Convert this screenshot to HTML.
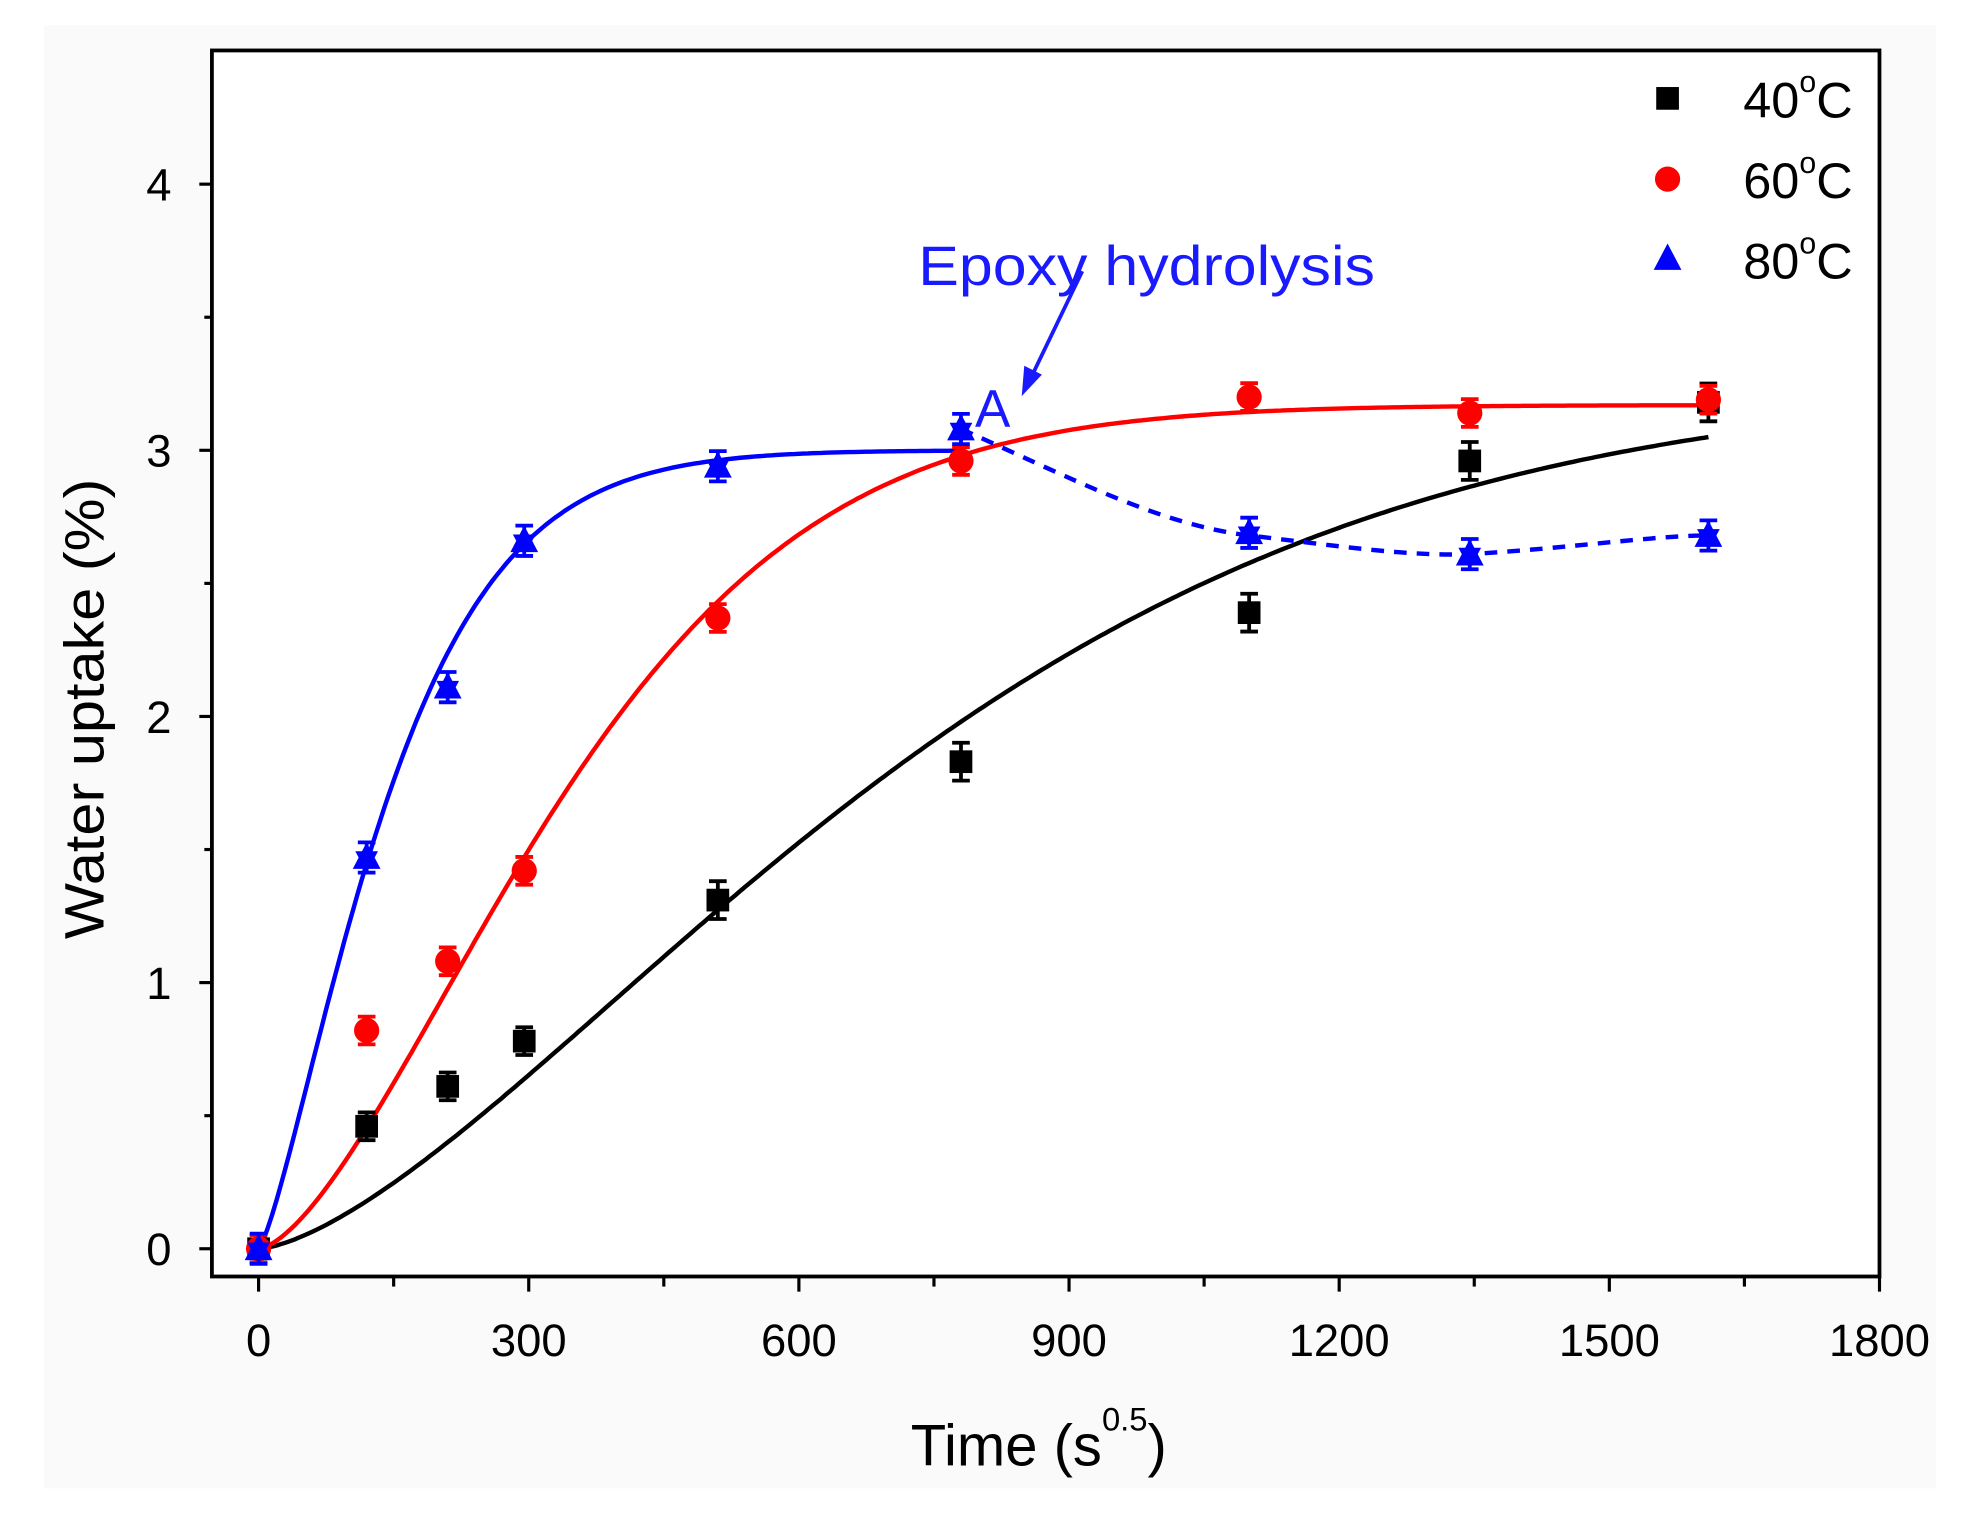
<!DOCTYPE html>
<html><head><meta charset="utf-8"><style>
html,body{margin:0;padding:0;background:#fff;}
svg{display:block;}
text{font-family:"Liberation Sans",Arial,sans-serif;}
</style></head><body>
<svg id="s" width="1964" height="1513" viewBox="0 0 1557 1199.5" preserveAspectRatio="none" xmlns="http://www.w3.org/2000/svg">
<rect x="0" y="0" width="1557" height="1200" fill="#fff"/>
<rect x="35" y="20" width="1500" height="1160" fill="#fafafa"/>
<rect x="168" y="40" width="1322" height="972" fill="#fff" stroke="#000" stroke-width="3"/>
<g id="g"></g>
<text x="728" y="226" font-size="44" fill="#1a1aff" textLength="362" lengthAdjust="spacingAndGlyphs">Epoxy hydrolysis</text>
<text x="773" y="338" font-size="42" fill="#1a1aff">A</text>
<line x1="858" y1="215" x2="818" y2="298" stroke="#1a1aff" stroke-width="3"/>
<polygon points="810,314 812,290 826,297" fill="#1a1aff"/>
<text transform="translate(82,562) rotate(-90)" text-anchor="middle" font-size="44" textLength="365" lengthAdjust="spacingAndGlyphs">Water uptake (%)</text>
<text x="722" y="1162" font-size="46">Time (s<tspan font-size="26" dy="-28">0.5</tspan><tspan dy="28">)</tspan></text>
<g font-size="40">
<rect x="1313" y="69" width="18" height="18" fill="#000"/>
<text x="1382" y="93">40<tspan font-size="24" dy="-20">o</tspan><tspan dy="20">C</tspan></text>
<circle cx="1322" cy="142" r="10" fill="#f00"/>
<text x="1382" y="157">60<tspan font-size="24" dy="-20">o</tspan><tspan dy="20">C</tspan></text>
<polygon points="1322,193 1333,214 1311,214" fill="#00f"/>
<text x="1382" y="221">80<tspan font-size="24" dy="-20">o</tspan><tspan dy="20">C</tspan></text>
</g>
</svg>
<script>
var X=t=>205+t*0.71389, Y=v=>990-v*211;
var g=document.getElementById('g'),h='';
for(var v=0;v<=4.01;v+=0.5){var y=Y(v),maj=Math.abs(v-Math.round(v))<1e-6;
h+='<line x1="'+(maj?158:162)+'" y1="'+y+'" x2="168" y2="'+y+'" stroke="#000" stroke-width="2.5"/>';
if(maj)h+='<text x="136" y="'+(y+13)+'" font-size="36" text-anchor="end">'+Math.round(v)+'</text>';}
for(var t=0;t<=1800;t+=150){var x=X(t),maj=t%300==0;
h+='<line x1="'+x+'" y1="1012" x2="'+x+'" y2="'+(maj?1024:1020)+'" stroke="#000" stroke-width="2.5"/>';
if(maj)h+='<text x="'+x+'" y="1075" font-size="36" text-anchor="middle">'+t+'</text>';}
function curve(A,tau,n,tmax,col,dash){var p='';for(var t=0;t<=tmax;t+=5){var v=A*(1-Math.exp(-Math.pow(t/tau,n)));p+=(t?'L':'M')+X(t).toFixed(1)+','+Y(v).toFixed(1);}
return '<path d="'+p+'" fill="none" stroke="'+col+'" stroke-width="3.5"/>';}
h+=curve(3.25,813,1.5,1610,'#000');
h+=curve(3.17,400,1.55,1610,'#f00');
h+=curve(3.0,165,1.31,775,'#00f');
h+='<path d="M'+X(780)+','+Y(3.08)+' C'+X(900)+','+Y(2.9)+' '+X(1000)+','+Y(2.72)+' '+X(1100)+','+Y(2.68)+' C'+X(1200)+','+Y(2.64)+' '+X(1280)+','+Y(2.6)+' '+X(1345)+','+Y(2.61)+' C'+X(1450)+','+Y(2.63)+' '+X(1550)+','+Y(2.68)+' '+X(1610)+','+Y(2.68)+'" fill="none" stroke="#00f" stroke-width="3.5" stroke-dasharray="10,8"/>';
var ts=[0,120,210,295,510,780,1100,1345,1610];
var d40=[0,0.46,0.61,0.78,1.31,1.83,2.39,2.96,3.18],d60=[0,0.82,1.08,1.42,2.37,2.96,3.2,3.14,3.19],d80=[0,1.47,2.11,2.66,2.94,3.08,2.69,2.61,2.68];
function eb(x,y,e,c){return '<path d="M'+x+','+(y-e)+'V'+(y+e)+'M'+(x-7)+','+(y-e)+'h14M'+(x-7)+','+(y+e)+'h14" stroke="'+c+'" stroke-width="3" fill="none"/>';}
ts.forEach(function(t,i){var x=X(t);
var y=Y(d40[i]);h+=eb(x,y,i>3?15:11,'#000')+'<rect x="'+(x-9)+'" y="'+(y-9)+'" width="18" height="18" fill="#000"/>';
y=Y(d60[i]);h+=eb(x,y,11,'#f00')+'<circle cx="'+x+'" cy="'+y+'" r="10" fill="#f00"/>';
y=Y(d80[i]);h+=eb(x,y,12,'#00f')+'<polygon points="'+x+','+(y-12)+' '+(x+11)+','+(y+9)+' '+(x-11)+','+(y+9)+'" fill="#00f"/><polygon points="'+x+','+(y+12)+' '+(x+9)+','+(y-5)+' '+(x-9)+','+(y-5)+'" fill="#00f"/>';
});
g.innerHTML=h;
</script>
</body></html>
